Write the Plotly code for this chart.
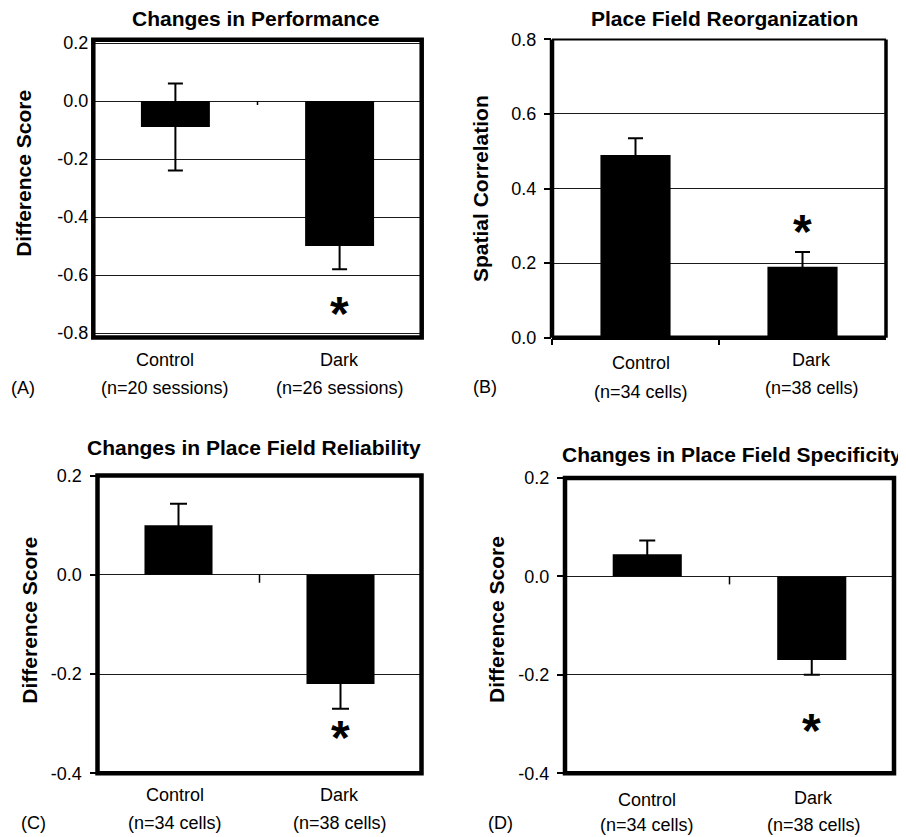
import plotly.graph_objects as go

# ---------------- data ----------------
categories = ["Control", "Dark"]

perf_mean = [-0.09, -0.50]
perf_sem = [0.15, 0.08]
perf_star = -0.70
perf_n = ["(n=20 sessions)", "(n=26 sessions)"]

corr_mean = [0.49, 0.19]
corr_sem = [0.045, 0.04]
corr_star = 0.31
corr_n = ["(n=34 cells)", "(n=38 cells)"]

rel_mean = [0.10, -0.22]
rel_sem = [0.043, 0.05]
rel_star = -0.31
rel_n = ["(n=34 cells)", "(n=38 cells)"]

spec_mean = [0.045, -0.17]
spec_sem = [0.028, 0.03]
spec_star = -0.295
spec_n = ["(n=34 cells)", "(n=38 cells)"]

titles = ["Changes in Performance", "Place Field Reorganization",
          "Changes in Place Field Reliability", "Changes in Place Field Specificity"]
ytitles = ["Difference Score", "Spatial Correlation", "Difference Score", "Difference Score"]
letters = ["(A)", "(B)", "(C)", "(D)"]

ticks_perf = [0.2, 0.0, -0.2, -0.4, -0.6, -0.8]
ticks_corr = [0.0, 0.2, 0.4, 0.6, 0.8]
ticks_diff = [0.2, 0.0, -0.2, -0.4]

# ---------------- layout helpers ----------------
OX, OY = 8, 8            # page body offset
W, H = 906 - OX, 837 - OY
FONT = "Liberation Sans, Arial, Helvetica, sans-serif"


def px_x(p):
    return (p - OX) / W


def px_y(p):
    return 1 - (p - OY) / H


panels = [
    dict(m=perf_mean, s=perf_sem, star=perf_star, n=perf_n, xd=(93.3, 421.7), yd=(39.7, 337.5),
         rng=[-0.8155, 0.2114], tv=ticks_perf, ticks="", cap=7.5, axis=("x", "y")),
    dict(m=corr_mean, s=corr_sem, star=corr_star, n=corr_n, xd=(552, 886), yd=(39.4, 337.7),
         rng=[0, 0.8], tv=ticks_corr, ticks="outside", cap=7.5, axis=("x2", "y2")),
    dict(m=rel_mean, s=rel_sem, star=rel_star, n=rel_n, xd=(97.5, 421.5), yd=(475.5, 773.3),
         rng=[-0.4, 0.2], tv=ticks_diff, ticks="outside", cap=8.5, axis=("x3", "y3")),
    dict(m=spec_mean, s=spec_sem, star=spec_star, n=spec_n, xd=(565, 894), yd=(478, 773.2),
         rng=[-0.4, 0.2], tv=ticks_diff, ticks="outside", cap=8, axis=("x4", "y4")),
]

cat_y = [(360, 360), (363, 360), (794.7, 794.7), (799.7, 798)]
n_y = [(388, 388), (392, 388), (823, 823), (824.7, 824.7)]
cat_shift = [(-10, 0), (5, 9), (-4, -1), (0, 2)]
title_pos = [(255, 18), (724.7, 19), (254, 447), (732, 454)]
ytitle_pos = [(22.8, 173), (480, 189), (28.7, 620), (496, 620)]
letter_pos = [(23, 388), (485, 386.7), (33, 823), (500.5, 823)]

fig = go.Figure()
annotations = []
shapes = []

for i, p in enumerate(panels):
    xa, ya = p["axis"]
    fig.add_trace(go.Bar(
        x=categories, y=p["m"], xaxis=xa, yaxis=ya,
        marker=dict(color="black", line=dict(width=0)),
        width=0.42,
        error_y=dict(type="data", array=p["s"], visible=True, color="black",
                     thickness=2, width=p["cap"]),
        showlegend=False, hoverinfo="skip",
    ))
    sfx = "" if i == 0 else str(i + 1)
    fig.update_layout(**{
        "xaxis" + sfx: dict(domain=[px_x(p["xd"][0]), px_x(p["xd"][1])], anchor=ya,
                            type="category", range=[-0.5, 1.5], showgrid=False, zeroline=False,
                            showline=False, showticklabels=False, automargin=False,
                            ticks="outside" if i == 1 else "", tickson="boundaries",
                            ticklen=6, tickwidth=1.5, tickcolor="black"),
        "yaxis" + sfx: dict(domain=[px_y(p["yd"][1]), px_y(p["yd"][0])], anchor=xa,
                            range=p["rng"], tickvals=p["tv"], ticktext=[f"{v:.1f}" for v in p["tv"]],
                            showgrid=True, gridcolor="#1a1a1a", gridwidth=1, zeroline=False,
                            showline=False, ticks=p["ticks"], ticklen=7, tickwidth=1.5,
                            tickcolor="black", ticklabelstandoff=4, automargin=False,
                            tickfont=dict(family=FONT, size=18, color="black")),
    })
    xdref = xa + " domain"
    ydref = ya + " domain"
    if i == 1:
        for (x0, y0, x1, y1, w) in [(0, 0, 0, 1, 4.5), (0, 1, 1, 1, 2), (1, 0, 1, 1, 3.5), (0, 0, 1, 0, 4.5)]:
            shapes.append(dict(type="line", xref=xdref, yref=ydref, x0=x0, y0=y0, x1=x1, y1=y1,
                               line=dict(color="black", width=w)))
    else:
        shapes.append(dict(type="rect", xref=xdref, yref=ydref, x0=0, y0=0, x1=1, y1=1,
                           line=dict(color="black", width=4.5)))
        shapes.append(dict(type="line", xref=xa, yref=ya, x0=0.5, x1=0.5,
                           ysizemode="pixel", yanchor=0, y0=0, y1=-4 if i == 0 else -8,
                           line=dict(color="black", width=1.5)))
    annotations.append(dict(xref=xa, yref=ya, x=categories[1], y=p["star"], text="<b>*</b>",
                            showarrow=False, yanchor="middle", yshift=-9,
                            font=dict(family=FONT, size=48, color="black")))
    for j, c in enumerate(categories):
        annotations.append(dict(xref=xa, yref="paper", x=c, y=px_y(cat_y[i][j]), text=c,
                                showarrow=False, yanchor="middle", xshift=cat_shift[i][j],
                                font=dict(family=FONT, size=18, color="black")))
        annotations.append(dict(xref=xa, yref="paper", x=c, y=px_y(n_y[i][j]), text=p["n"][j],
                                showarrow=False, yanchor="middle", xshift=cat_shift[i][j],
                                font=dict(family=FONT, size=18, color="black")))
    annotations.append(dict(xref="paper", yref="paper", x=px_x(title_pos[i][0]), y=px_y(title_pos[i][1]),
                            text="<b>" + titles[i] + "</b>", showarrow=False,
                            xanchor="center", yanchor="middle",
                            font=dict(family=FONT, size=21, color="black")))
    annotations.append(dict(xref="paper", yref="paper", x=px_x(ytitle_pos[i][0]), y=px_y(ytitle_pos[i][1]),
                            text="<b>" + ytitles[i] + "</b>", showarrow=False, textangle=-90,
                            xanchor="center", yanchor="middle",
                            font=dict(family=FONT, size=21, color="black")))
    annotations.append(dict(xref="paper", yref="paper", x=px_x(letter_pos[i][0]), y=px_y(letter_pos[i][1]),
                            text=letters[i], showarrow=False, xanchor="center", yanchor="middle",
                            font=dict(family=FONT, size=18, color="black")))

fig.update_layout(
    width=W, height=H, margin=dict(l=0, r=0, t=0, b=0, autoexpand=False),
    paper_bgcolor="white", plot_bgcolor="white",
    annotations=annotations, shapes=shapes,
    font=dict(family=FONT, color="black"),
)

fig.write_html("out.html")
